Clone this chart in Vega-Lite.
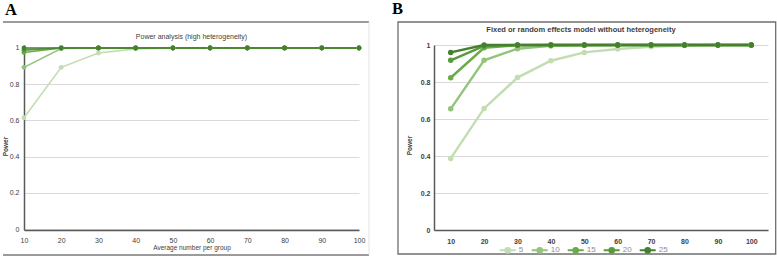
{
  "$schema": "https://vega.github.io/schema/vega-lite/v6.json",
  "autosize": {"type": "none"},
  "padding": {"left": 24, "top": 45, "right": 753, "bottom": 212},
  "spacing": 75,
  "bounds": "flush",
  "background": "white",
  "config": {
    "view": {"stroke": null},
    "font": "Liberation Sans",
    "axis": {"ticks": false, "domainColor": "#595959", "domainWidth": 1.5, "gridColor": "#d9d9d9", "gridWidth": 1, "labelColor": "#404040", "titleColor": "#404040", "labelFont": "Liberation Sans", "titleFont": "Liberation Sans", "labelOverlap": false}
  },
  "datasets": {
    "powerA": [
      {"n": 10, "series": 5, "power": 0.615}, {"n": 20, "series": 5, "power": 0.893}, {"n": 30, "series": 5, "power": 0.972}, {"n": 40, "series": 5, "power": 0.995}, {"n": 50, "series": 5, "power": 1}, {"n": 60, "series": 5, "power": 1}, {"n": 70, "series": 5, "power": 1}, {"n": 80, "series": 5, "power": 1}, {"n": 90, "series": 5, "power": 1}, {"n": 100, "series": 5, "power": 1},
      {"n": 10, "series": 10, "power": 0.893}, {"n": 20, "series": 10, "power": 0.997}, {"n": 30, "series": 10, "power": 1}, {"n": 40, "series": 10, "power": 1}, {"n": 50, "series": 10, "power": 1}, {"n": 60, "series": 10, "power": 1}, {"n": 70, "series": 10, "power": 1}, {"n": 80, "series": 10, "power": 1}, {"n": 90, "series": 10, "power": 1}, {"n": 100, "series": 10, "power": 1},
      {"n": 10, "series": 15, "power": 0.975}, {"n": 20, "series": 15, "power": 1}, {"n": 30, "series": 15, "power": 1}, {"n": 40, "series": 15, "power": 1}, {"n": 50, "series": 15, "power": 1}, {"n": 60, "series": 15, "power": 1}, {"n": 70, "series": 15, "power": 1}, {"n": 80, "series": 15, "power": 1}, {"n": 90, "series": 15, "power": 1}, {"n": 100, "series": 15, "power": 1},
      {"n": 10, "series": 20, "power": 0.988}, {"n": 20, "series": 20, "power": 1}, {"n": 30, "series": 20, "power": 1}, {"n": 40, "series": 20, "power": 1}, {"n": 50, "series": 20, "power": 1}, {"n": 60, "series": 20, "power": 1}, {"n": 70, "series": 20, "power": 1}, {"n": 80, "series": 20, "power": 1}, {"n": 90, "series": 20, "power": 1}, {"n": 100, "series": 20, "power": 1},
      {"n": 10, "series": 25, "power": 1}, {"n": 20, "series": 25, "power": 1}, {"n": 30, "series": 25, "power": 1}, {"n": 40, "series": 25, "power": 1}, {"n": 50, "series": 25, "power": 1}, {"n": 60, "series": 25, "power": 1}, {"n": 70, "series": 25, "power": 1}, {"n": 80, "series": 25, "power": 1}, {"n": 90, "series": 25, "power": 1}, {"n": 100, "series": 25, "power": 1}
    ],
    "powerB": [
      {"n": 10, "series": 5, "power": 0.387}, {"n": 20, "series": 5, "power": 0.657}, {"n": 30, "series": 5, "power": 0.824}, {"n": 40, "series": 5, "power": 0.915}, {"n": 50, "series": 5, "power": 0.96}, {"n": 60, "series": 5, "power": 0.978}, {"n": 70, "series": 5, "power": 0.99}, {"n": 80, "series": 5, "power": 0.997}, {"n": 90, "series": 5, "power": 1}, {"n": 100, "series": 5, "power": 1},
      {"n": 10, "series": 10, "power": 0.655}, {"n": 20, "series": 10, "power": 0.917}, {"n": 30, "series": 10, "power": 0.98}, {"n": 40, "series": 10, "power": 0.995}, {"n": 50, "series": 10, "power": 0.999}, {"n": 60, "series": 10, "power": 1}, {"n": 70, "series": 10, "power": 1}, {"n": 80, "series": 10, "power": 1}, {"n": 90, "series": 10, "power": 1}, {"n": 100, "series": 10, "power": 1},
      {"n": 10, "series": 15, "power": 0.823}, {"n": 20, "series": 15, "power": 0.985}, {"n": 30, "series": 15, "power": 0.999}, {"n": 40, "series": 15, "power": 1}, {"n": 50, "series": 15, "power": 1}, {"n": 60, "series": 15, "power": 1}, {"n": 70, "series": 15, "power": 1}, {"n": 80, "series": 15, "power": 1}, {"n": 90, "series": 15, "power": 1}, {"n": 100, "series": 15, "power": 1},
      {"n": 10, "series": 20, "power": 0.917}, {"n": 20, "series": 20, "power": 0.995}, {"n": 30, "series": 20, "power": 1}, {"n": 40, "series": 20, "power": 1}, {"n": 50, "series": 20, "power": 1}, {"n": 60, "series": 20, "power": 1}, {"n": 70, "series": 20, "power": 1}, {"n": 80, "series": 20, "power": 1}, {"n": 90, "series": 20, "power": 1}, {"n": 100, "series": 20, "power": 1},
      {"n": 10, "series": 25, "power": 0.96}, {"n": 20, "series": 25, "power": 1}, {"n": 30, "series": 25, "power": 1}, {"n": 40, "series": 25, "power": 1}, {"n": 50, "series": 25, "power": 1}, {"n": 60, "series": 25, "power": 1}, {"n": 70, "series": 25, "power": 1}, {"n": 80, "series": 25, "power": 1}, {"n": 90, "series": 25, "power": 1}, {"n": 100, "series": 25, "power": 1}
    ]
  },
  "resolve": {"scale": {"color": "independent"}, "legend": {"color": "independent"}},
  "hconcat": [
    {
      "width": 335,
      "height": 185,
      "layer": [
        {
          "data": {"name": "powerA"},
          "mark": {"type": "line", "strokeWidth": 1.6, "point": {"filled": true, "size": 24}, "clip": false},
          "encoding": {
            "x": {"field": "n", "type": "quantitative", "scale": {"domain": [10, 100], "nice": false, "zero": false}, "axis": {"values": [10, 20, 30, 40, 50, 60, 70, 80, 90, 100], "tickCount": 20, "labelOverlap": false, "grid": false, "labelFontSize": 7, "labelPadding": 6, "labelFlush": false, "title": "Average number per group", "titleFontSize": 6.5, "titleFontWeight": "normal", "titlePadding": 1.5}},
            "y": {"field": "power", "type": "quantitative", "scale": {"domain": [-0.00552, 1.01657], "nice": false, "zero": false}, "axis": {"values": [0, 0.2, 0.4, 0.6, 0.8, 1], "tickCount": 20, "labelOverlap": false, "format": "~g", "grid": true, "labelFontSize": 7, "labelPadding": 5, "title": "Power", "titleFontSize": 6.5, "titleFontWeight": "bold", "titleX": -18.5, "titleY": 101, "titleBaseline": "middle", "titleAlign": "center"}},
            "color": {"field": "series", "type": "ordinal", "scale": {"domain": [5, 10, 15, 20, 25], "range": ["#c2ddb1", "#93c47c", "#6aab4a", "#589a3c", "#45802f"]}, "legend": null}
          }
        },
        {
          "data": {"values": [{}]},
          "mark": {"type": "rule", "color": "#7a7a7a", "strokeWidth": 1.5, "clip": false},
          "encoding": {"x": {"datum": 4.36, "type": "quantitative"}, "x2": {"datum": 102.69}, "y": {"datum": 1.1436, "type": "quantitative"}}
        },
        {
          "data": {"values": [{}]},
          "mark": {"type": "rule", "color": "#7a7a7a", "strokeWidth": 1.5, "clip": false},
          "encoding": {"x": {"datum": 4.36, "type": "quantitative"}, "x2": {"datum": 102.69}, "y": {"datum": -0.1436, "type": "quantitative"}}
        },
        {
          "data": {"values": [{}]},
          "mark": {"type": "rule", "color": "#e3e3e3", "strokeWidth": 1, "clip": false},
          "encoding": {"x": {"datum": 102.69, "type": "quantitative"}, "y": {"datum": 1.1436, "type": "quantitative"}, "y2": {"datum": -0.1436}}
        },
        {
          "data": {"values": [{"panel": "A"}]},
          "mark": {"type": "text", "font": "Liberation Serif", "fontWeight": "bold", "fontSize": 16.5, "align": "left", "baseline": "alphabetic", "color": "#000000", "clip": false},
          "encoding": {"x": {"datum": 4.9, "type": "quantitative"}, "y": {"datum": 1.185, "type": "quantitative"}, "text": {"field": "panel"}}
        },
        {
          "data": {"values": [{"title": "Power analysis (high heterogeneity)"}]},
          "mark": {"type": "text", "font": "Liberation Sans", "fontSize": 7, "align": "center", "baseline": "middle", "color": "#404040", "clip": false},
          "encoding": {"x": {"datum": 55, "type": "quantitative"}, "y": {"datum": 1.0608, "type": "quantitative"}, "text": {"field": "title"}}
        }
      ]
    },
    {
      "width": 334,
      "height": 185,
      "layer": [
        {
          "data": {"name": "powerB"},
          "mark": {"type": "line", "strokeWidth": 2.4, "point": {"filled": true, "size": 30}, "clip": false},
          "encoding": {
            "x": {"field": "n", "type": "quantitative", "scale": {"domain": [5, 105], "nice": false, "zero": false}, "axis": {"values": [10, 20, 30, 40, 50, 60, 70, 80, 90, 100], "tickCount": 20, "labelOverlap": false, "grid": false, "labelFontSize": 7, "labelFontWeight": "bold", "labelPadding": 7, "labelFlush": false, "title": null}},
            "y": {"field": "power", "type": "quantitative", "scale": {"domain": [0, 1], "nice": false}, "axis": {"values": [0, 0.2, 0.4, 0.6, 0.8, 1], "tickCount": 20, "labelOverlap": false, "format": "~g", "grid": true, "labelFontSize": 7, "labelFontWeight": "bold", "labelPadding": 4, "title": "Power", "titleFontSize": 6.5, "titleFontWeight": "bold", "titleX": -25, "titleY": 100, "titleBaseline": "middle", "titleAlign": "center"}},
            "color": {"field": "series", "type": "ordinal", "title": null, "scale": {"domain": [5, 10, 15, 20, 25], "range": ["#c2ddb1", "#93c47c", "#6aab4a", "#589a3c", "#45802f"]},
              "legend": {"orient": "none", "legendX": 64.7, "legendY": 196, "direction": "horizontal", "columns": 5, "padding": 0, "columnPadding": 4, "labelOffset": 2, "labelFontSize": 8, "labelColor": "#8c8c8c", "labelFont": "Liberation Sans", "symbolType": "M-1,0H1M-0.3,0A0.3,0.3 0 1 1 0.3,0A0.3,0.3 0 1 1 -0.3,0Z", "symbolSize": 256, "symbolStrokeWidth": 2}}
          }
        },
        {
          "data": {"values": [{}]},
          "mark": {"type": "rect", "fill": null, "fillOpacity": 0, "stroke": "#6f6f6f", "strokeWidth": 1.3, "clip": false},
          "encoding": {"x": {"datum": -5.78, "type": "quantitative"}, "x2": {"datum": 107.3}, "y": {"datum": 1.1243, "type": "quantitative"}, "y2": {"datum": -0.1297}}
        },
        {
          "data": {"values": [{"panel": "B"}]},
          "mark": {"type": "text", "font": "Liberation Serif", "fontWeight": "bold", "fontSize": 16.5, "align": "left", "baseline": "alphabetic", "color": "#000000", "clip": false},
          "encoding": {"x": {"datum": -7.57, "type": "quantitative"}, "y": {"datum": 1.165, "type": "quantitative"}, "text": {"field": "panel"}}
        },
        {
          "data": {"values": [{"title": "Fixed or random effects model without heterogeneity"}]},
          "mark": {"type": "text", "font": "Liberation Sans", "fontSize": 7.5, "fontWeight": "bold", "align": "center", "baseline": "middle", "color": "#404040", "clip": false},
          "encoding": {"x": {"datum": 49, "type": "quantitative"}, "y": {"datum": 1.081, "type": "quantitative"}, "text": {"field": "title"}}
        }
      ]
    }
  ]
}
